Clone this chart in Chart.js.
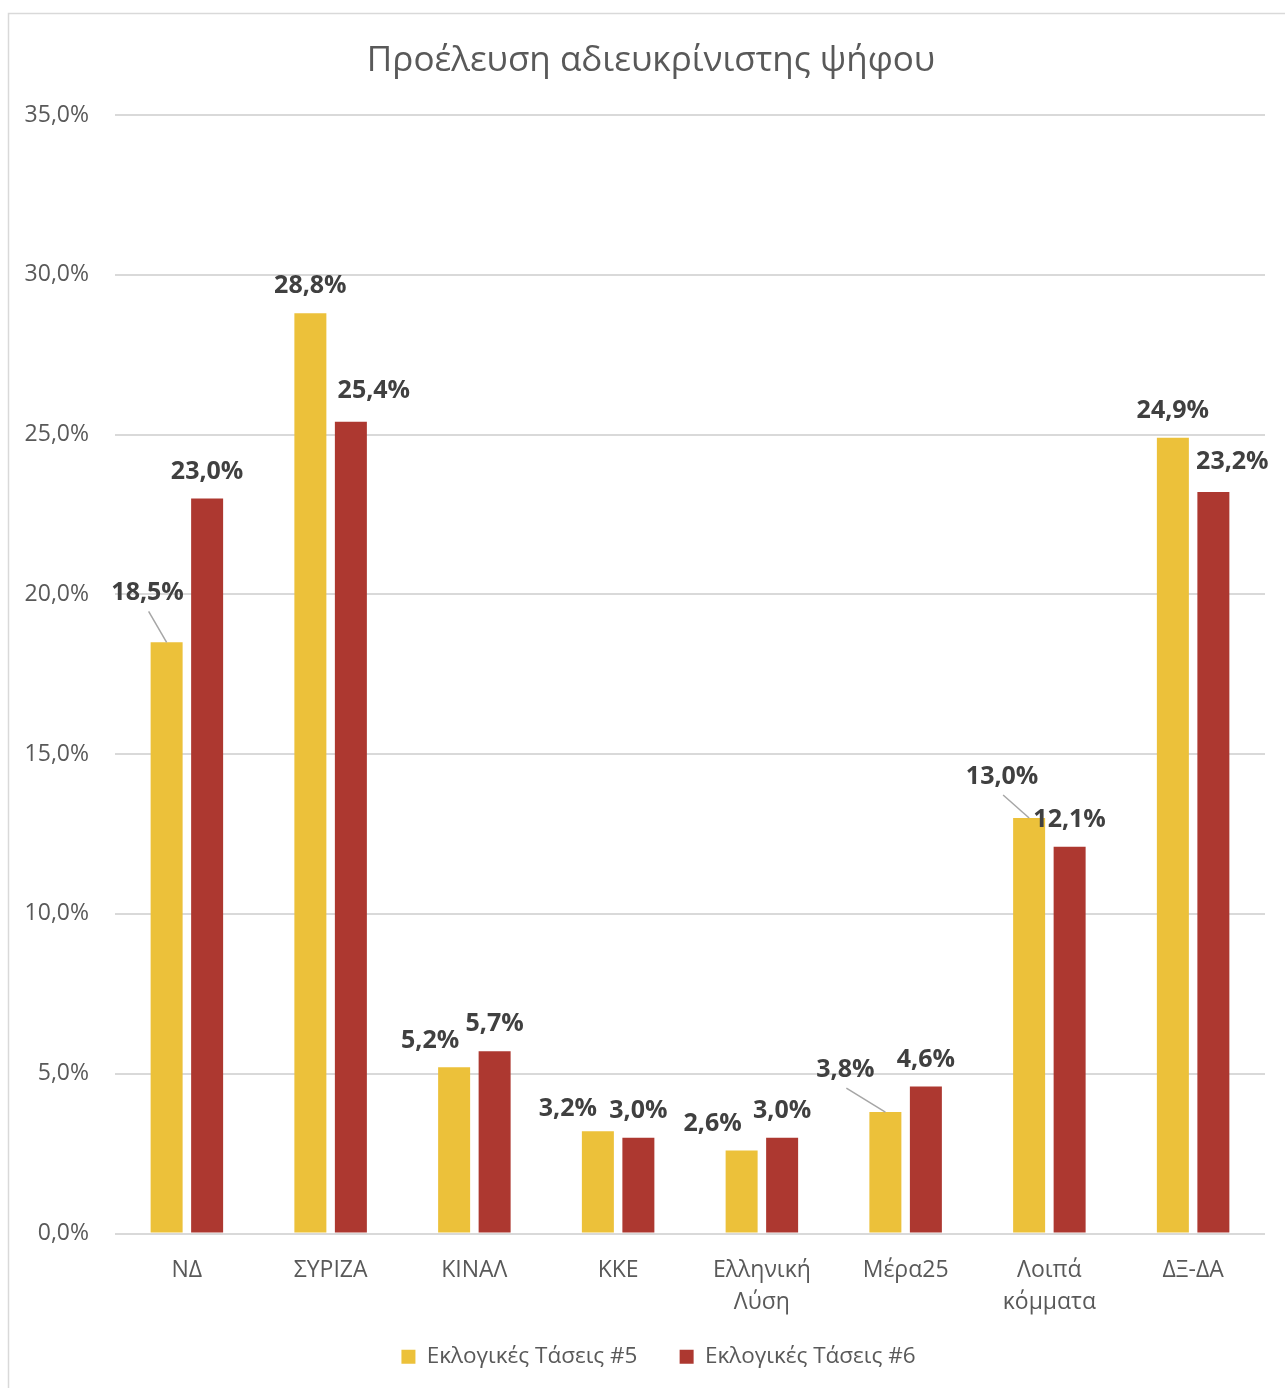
<!DOCTYPE html>
<html>
<head>
<meta charset="utf-8">
<script src="https://cdn.jsdelivr.net/npm/chart.js@4"></script>
<style>
html,body{margin:0;padding:0;background:#fff;overflow:hidden;}
#wrap{position:absolute;left:0;top:0;width:1285px;height:1388px;}
</style>
</head>
<body>
<div id="wrap"><canvas id="c"></canvas></div>
<script>
const categories = ["ΝΔ", "ΣΥΡΙΖΑ", "ΚΙΝΑΛ", "ΚΚΕ", ["Ελληνική", "Λύση"], "Μέρα25", ["Λοιπά", "κόμματα"], "ΔΞ-ΔΑ"];
const seriesNames = ["Εκλογικές Τάσεις #5", "Εκλογικές Τάσεις #6"];
const series5 = [18.5, 28.8, 5.2, 3.2, 2.6, 3.8, 13.0, 24.9];
const series6 = [23.0, 25.4, 5.7, 3.0, 3.0, 4.6, 12.1, 23.2];
const yTicks = [0, 5, 10, 15, 20, 25, 30, 35];
const titleText = "Προέλευση αδιευκρίνιστης ψήφου";

// label placement tweaks (pixels), mimicking the reference's manual label moves
const labelShift = [
  [[-19,-22],[0,0],[-24,1],[-30,5],[-29,0],[-40,-15],[-27,-14],[0,0]],
  [[0,0],[23,-4],[0,0],[0,0],[0,0],[0,0],[0,0],[19,-3]]
];
const leaderLines = [
  [true,false,false,false,false,true,true,false],
  [false,false,false,false,false,false,false,false]
];

const fmt = v => v.toFixed(1).replace('.', ',') + '%';
const FONT = "'Open Sans', 'Noto Sans', sans-serif";

const framePlugin = {
  id: 'frame',
  afterUpdate(chart) {
    // nudge the legend row to the right, as in the reference
    if (chart.legend) { chart.legend.left += 26; chart.legend.right += 26; }
  },
  beforeDraw(chart) {
    const ctx = chart.ctx;
    ctx.save();
    ctx.fillStyle = '#ffffff';
    ctx.fillRect(0, 0, chart.width, chart.height);
    ctx.strokeStyle = '#d9d9d9';
    ctx.lineWidth = 1.5;
    ctx.strokeRect(8.5, 13.5, 1300, 1400);
    ctx.restore();
  },
  afterDraw(chart) {
    const ctx = chart.ctx;
    ctx.save();
    ctx.fillStyle = '#595959';
    ctx.font = "35px " + FONT;
    ctx.textAlign = 'center';
    ctx.textBaseline = 'middle';
    ctx.fillText(titleText, 651, 61);
    ctx.restore();
  }
};

const labelPlugin = {
  id: 'valueLabels',
  afterDatasetsDraw(chart) {
    const ctx = chart.ctx;
    ctx.save();
    ctx.font = "bold 25px " + FONT;
    ctx.textAlign = 'center';
    ctx.textBaseline = 'middle';
    chart.data.datasets.forEach((ds, di) => {
      const meta = chart.getDatasetMeta(di);
      meta.data.forEach((el, i) => {
        const [dx, dy] = labelShift[di][i];
        const lx = el.x + dx;
        const ly = el.y - 27 + dy;
        if (leaderLines[di][i]) {
          ctx.strokeStyle = '#a6a6a6';
          ctx.lineWidth = 1.5;
          ctx.beginPath();
          ctx.moveTo(lx + 1, ly + 18);
          ctx.lineTo(el.x, el.y);
          ctx.stroke();
        }
        ctx.fillStyle = '#404040';
        ctx.fillText(fmt(ds.data[i]), lx, ly);
      });
    });
    ctx.restore();
  }
};

const baseGen = Chart.defaults.plugins.legend.labels.generateLabels;

new Chart(document.getElementById('c'), {
  type: 'bar',
  data: {
    labels: categories,
    datasets: [
      { label: seriesNames[0], data: series5, backgroundColor: '#ECC13A', categoryPercentage: 0.5635, barPercentage: 0.79 },
      { label: seriesNames[1], data: series6, backgroundColor: '#AD3830', categoryPercentage: 0.5635, barPercentage: 0.79 }
    ]
  },
  options: {
    responsive: true,
    maintainAspectRatio: false,
    animation: false,
    layout: { padding: { left: 0, right: 20, top: 115, bottom: 10 } },
    plugins: {
      title: { display: false },
      legend: {
        position: 'bottom',
        labels: {
          color: '#595959',
          font: { family: FONT, size: 22.5 },
          boxWidth: 14,
          boxHeight: 14,
          padding: 31,
          generateLabels(chart) {
            const items = baseGen(chart);
            if (items.length) items[0].text = items[0].text + '\u2002';
            return items;
          }
        }
      },
      tooltip: { enabled: false }
    },
    scales: {
      x: {
        grid: { display: false, drawTicks: false },
        border: { display: false },
        ticks: {
          color: '#595959',
          font: { family: FONT, size: 23, lineHeight: 1.4 },
          padding: 21,
          maxRotation: 0,
          autoSkip: false
        },
        afterFit(scale) { scale.height = 81; }
      },
      y: {
        min: 0,
        max: 35,
        afterBuildTicks(scale) { scale.ticks = yTicks.map(v => ({ value: v })); },
        grid: { color: '#d9d9d9', lineWidth: 2, drawTicks: false },
        border: { display: false },
        ticks: {
          color: '#595959',
          font: { family: FONT, size: 23 },
          padding: 26,
          callback: v => fmt(v)
        },
        afterFit(scale) { scale.width = 115; }
      }
    }
  },
  plugins: [framePlugin, labelPlugin]
});
</script>
</body>
</html>
